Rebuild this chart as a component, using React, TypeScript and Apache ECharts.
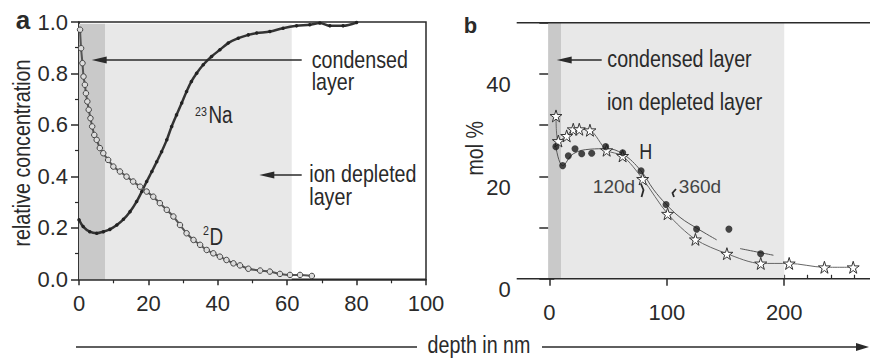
import React, { useEffect, useRef } from "react";
import * as echarts from "echarts";

// ---------- data ----------
const naData: number[][] = [
  [0, 0.231], [1.2, 0.205], [3.1, 0.185], [5.1, 0.179], [7.0, 0.185], [8.9, 0.194],
  [10.9, 0.211], [12.8, 0.233], [14.7, 0.263], [16.6, 0.302], [18.1, 0.341], [19.5, 0.38],
  [21.0, 0.419], [22.4, 0.457], [23.8, 0.496], [25.3, 0.542], [26.7, 0.594], [28.1, 0.639],
  [29.6, 0.685], [31.0, 0.73], [32.4, 0.769], [33.9, 0.801], [35.8, 0.834], [38.2, 0.866],
  [40.6, 0.892], [43.0, 0.918], [45.9, 0.937], [48.8, 0.95], [51.2, 0.957], [55.0, 0.963],
  [58.8, 0.976], [62.7, 0.985], [66.5, 0.989], [69.4, 0.996], [72.3, 0.985], [76.1, 0.985],
  [80.0, 0.998],
];
const dData: number[][] = [
  [0.3, 0.97], [0.6, 0.898], [1.0, 0.84], [1.3, 0.788], [1.7, 0.756], [2.0, 0.723],
  [2.4, 0.691], [2.8, 0.659], [3.3, 0.626], [3.8, 0.594], [4.4, 0.561], [5.1, 0.542],
  [6.0, 0.51], [7.0, 0.49], [8.4, 0.464], [9.9, 0.438], [11.8, 0.419], [13.7, 0.399],
  [15.6, 0.38], [17.6, 0.36], [19.5, 0.341], [21.4, 0.321], [23.3, 0.296], [25.3, 0.27],
  [27.2, 0.244], [29.1, 0.211], [31.0, 0.179], [33.0, 0.153], [34.9, 0.134], [36.8, 0.114],
  [38.7, 0.101], [40.6, 0.088], [42.5, 0.075], [44.5, 0.062], [46.4, 0.054], [48.8, 0.041],
  [52.2, 0.034], [55.0, 0.03], [57.9, 0.021], [60.8, 0.017], [63.7, 0.017], [67.1, 0.013],
];
const starData: number[][] = [
  [5.7, 31.8], [7.7, 26.9], [14.8, 27.9], [20.4, 29.2], [25.5, 29.2], [34.6, 29.0],
  [48.8, 25.1], [62.4, 24.0], [79.5, 19.5], [100.7, 12.7], [124.4, 7.7], [151.2, 4.9],
  [180.0, 3.0], [204.2, 3.0], [234.2, 2.25], [258.7, 2.25],
];
const dotData: number[][] = [
  [5.6, 25.8], [11.4, 22.1], [16.2, 24.0], [21.9, 25.4], [27.6, 24.4], [36.1, 24.5],
  [48.0, 25.8], [62.5, 24.6], [78.1, 21.1], [99.4, 14.5], [125.4, 9.7], [152.9, 9.7],
  [179.9, 4.9],
];
const dotFit: (number[] | string)[] = [
  [5.6, 25.8], [11.4, 22.1], [20.4, 24.4], [34.6, 25.3], [48.8, 25.4], [62.4, 24.4],
  [78.0, 21.1], [88.5, 17.5], [99.3, 14.6], [111.3, 12.0], [125.4, 9.9], [142.5, 7.6],
  "-", [162.4, 5.9], [190.8, 4.6],
];
const aXTicks = [0, 20, 40, 60, 80, 100];
const bXLabels = [0, 100, 200];
const bXMinor = [20, 40, 60, 80, 100, 120, 140, 160, 180, 200, 220, 240, 260];
const bYLabels = [0, 20, 40];
const aCondensed = [0, 7.5];
const aDepleted = [7.5, 61.3];
const bCondensed = [-1, 10];
const bDepleted = [10, 200];

const FONT = "'Liberation Sans', Arial, Helvetica, sans-serif";
const NARROW = 0.82;
const INK = "#2a2a2a";
const STAR = "path://M50,0 L61,35 L98,35 L68,57 L79,91 L50,70 L21,91 L32,57 L2,35 L39,35 Z";

function txt(text: string, x: number, y: number, size: number, extra: any = {}, el: any = {}) {
  return {
    type: "text",
    x,
    y,
    z: 100,
    silent: true,
    scaleX: NARROW,
    ...el,
    style: {
      text,
      fontSize: size,
      fontFamily: FONT,
      fill: INK,
      align: "left",
      verticalAlign: "middle",
      ...extra,
    },
  };
}
function ln(x1: number, y1: number, x2: number, y2: number, w = 1.5) {
  return {
    type: "line",
    z: 100,
    silent: true,
    shape: { x1, y1, x2, y2 },
    style: { stroke: INK, lineWidth: w },
  };
}
function head(tipX: number, y: number, len: number, half: number, dir: number) {
  return {
    type: "polygon",
    z: 100,
    silent: true,
    shape: {
      points: [
        [tipX, y],
        [tipX + dir * len, y - half],
        [tipX + dir * len, y + half],
      ],
    },
    style: { fill: INK },
  };
}

export default function App() {
  const ref = useRef<HTMLDivElement>(null);
  useEffect(() => {
    if (!ref.current) return;
    const chart = echarts.init(ref.current, undefined, { renderer: "svg" });
    const axisLine = { lineStyle: { color: INK, width: 1.5 } };
    const tickStyle = { color: INK, width: 1.5 };
    const lbl = { fontSize: 22, fontFamily: FONT, color: INK };
    chart.setOption({
      animation: false,
      grid: [
        { left: 79, right: 444, top: 22, bottom: 78.7, show: true, borderColor: INK, borderWidth: 1.5 },
        { left: 525.8, right: 0, top: 22.7, bottom: 79.2 },
      ],
      xAxis: [
        {
          gridIndex: 0, type: "value", min: aXTicks[0], max: aXTicks[aXTicks.length - 1], interval: 20,
          axisLine, axisTick: { length: 6, lineStyle: tickStyle },
          minorTick: { show: true, splitNumber: 2, length: 4, lineStyle: { color: INK, width: 1.2 } },
          axisLabel: { ...lbl, margin: 13 }, splitLine: { show: false },
        },
        {
          gridIndex: 1, type: "value", min: -20, max: 273, position: "bottom",
          axisLine: { show: false },
          axisTick: { customValues: bXLabels, length: 7, lineStyle: tickStyle },
          axisLabel: { ...lbl, customValues: bXLabels, margin: 23 }, splitLine: { show: false },
        },
        {
          gridIndex: 1, type: "value", min: -20, max: 273, position: "bottom",
          axisLine: { show: false },
          axisTick: { inside: true, customValues: bXMinor, length: 4, lineStyle: { color: INK, width: 1.2 } },
          axisLabel: { show: false }, splitLine: { show: false },
        },
      ],
      yAxis: [
        {
          gridIndex: 0, type: "value", min: 0, max: 1, interval: 0.2,
          axisLine: { show: true, ...axisLine }, axisTick: { show: true, length: 8, lineStyle: tickStyle },
          minorTick: { show: true, splitNumber: 2, length: 4, lineStyle: { color: INK, width: 1.2 } },
          axisLabel: { ...lbl, margin: 11, formatter: (v: number) => v.toFixed(1) },
          splitLine: { show: false },
        },
        {
          gridIndex: 1, type: "value", min: 0, max: 50, interval: 10, position: "left",
          axisLine: { show: true, ...axisLine }, axisTick: { show: true, length: 10, lineStyle: tickStyle },
          axisLabel: { ...lbl, customValues: bYLabels, margin: 15, verticalAlign: "top" },
          splitLine: { show: false },
        },
        {
          gridIndex: 1, type: "value", min: 0, max: 50, interval: 10, position: "left",
          axisLine: { show: false }, axisTick: { show: true, inside: true, length: 5, lineStyle: tickStyle },
          axisLabel: { show: false }, splitLine: { show: false },
        },
      ],
      series: [
        {
          name: "23Na", type: "line", xAxisIndex: 0, yAxisIndex: 0, data: naData, smooth: 0.3,
          symbol: "circle", symbolSize: 3.5, itemStyle: { color: "#222" },
          lineStyle: { color: "#333", width: 2.5 }, z: 3,
          markArea: {
            silent: true, label: { show: false },
            data: [
              [{ xAxis: aCondensed[0], yAxis: 0, itemStyle: { color: "#c9c9c9" } }, { xAxis: aCondensed[1], yAxis: 0.993 }],
              [{ xAxis: aDepleted[0], yAxis: 0, itemStyle: { color: "#e8e8e8" } }, { xAxis: aDepleted[1], yAxis: 0.993 }],
            ],
          },
        },
        {
          name: "2D", type: "line", xAxisIndex: 0, yAxisIndex: 0, data: dData, smooth: 0.3,
          symbol: "circle", symbolSize: 5.5,
          itemStyle: { color: "#dcdcdc", borderColor: "#444", borderWidth: 1 },
          lineStyle: { color: "#555", width: 2 }, z: 4,
        },
        {
          name: "fit", type: "line", xAxisIndex: 1, yAxisIndex: 1, data: dotFit, smooth: 0.4,
          symbol: "none", lineStyle: { color: "#555", width: 1 }, connectNulls: false, z: 3,
          markArea: {
            silent: true, label: { show: false },
            data: [
              [{ xAxis: bCondensed[0], yAxis: 0, itemStyle: { color: "#c9c9c9" } }, { xAxis: bCondensed[1], yAxis: 50 }],
              [{ xAxis: bDepleted[0], yAxis: 0, itemStyle: { color: "#e8e8e8" } }, { xAxis: bDepleted[1], yAxis: 50 }],
            ],
          },
        },
        {
          name: "360d", type: "line", xAxisIndex: 1, yAxisIndex: 1, data: starData, smooth: 0.3,
          symbol: STAR, symbolSize: 12,
          itemStyle: { color: "#ffffff", borderColor: "#333", borderWidth: 1 },
          lineStyle: { color: "#666", width: 1 }, z: 5,
        },
        {
          name: "dots", type: "scatter", xAxisIndex: 1, yAxisIndex: 1, data: dotData,
          symbol: "circle", symbolSize: 7, itemStyle: { color: "#1a1a1a" }, z: 6,
        },
      ],
      graphic: [
        // panel letters and axis names
        txt("a", 23, 20, 26, { fontWeight: "bold", align: "center" }, { scaleX: 1 }),
        txt("b", 470.5, 25.6, 22, { fontWeight: "bold", align: "center" }, { scaleX: 1 }),
        txt("relative concentration", 21.6, 153, 24, { align: "center" }, { rotation: Math.PI / 2 }),
        txt("mol %", 474.3, 148.3, 24, { align: "center" }, { rotation: Math.PI / 2 }),
        // panel a annotations
        txt("condensed\nlayer", 311.7, 49.3, 24, { verticalAlign: "top", lineHeight: 21.5 }),
        txt("ion depleted\nlayer", 309.3, 162.5, 24, { verticalAlign: "top", lineHeight: 23 }),
        ln(106, 60, 301.7, 60), head(91.7, 60, 15, 3.5, 1),
        ln(274, 175, 301.7, 175), head(259.3, 175, 15, 3.5, 1),
        txt("23", 195, 111.5, 13),
        txt("Na", 208.5, 114.5, 23),
        txt("2", 203, 231, 13),
        txt("D", 209.5, 236.5, 23),
        // panel b annotations
        txt("condensed layer", 607.3, 58.3, 24),
        txt("ion depleted layer", 607, 101.6, 24),
        ln(571, 60, 601.7, 60), head(556.7, 60, 15, 3.5, 1),
        txt("H", 639.3, 151, 22),
        txt("120d", 614, 186, 19, { fill: "#444", align: "center" }, { scaleX: 1 }),
        txt("360d", 700, 186, 19, { fill: "#444", align: "center" }, { scaleX: 1 }),
        { type: "polyline", z: 100, silent: true, shape: { points: [[641, 184], [643.5, 190], [641.5, 197]] }, style: { stroke: INK, lineWidth: 1.8, fill: "none" } },
        { type: "polyline", z: 100, silent: true, shape: { points: [[676, 189], [672.5, 193], [674, 197]] }, style: { stroke: INK, lineWidth: 1.8, fill: "none" } },
        // panel b frame lines
        ln(516.7, 22.7, 870, 22.7),
        ln(516.7, 278.8, 870, 278.8),
        // depth arrow
        txt("depth in nm", 479, 344.5, 24, { align: "center" }),
        ln(76, 347, 417, 347),
        ln(542, 347, 858, 347),
        head(869, 347, 13, 4, -1),
      ],
    });
    return () => chart.dispose();
  }, []);
  return <div ref={ref} style={{ width: 870, height: 358, position: "absolute", left: 0, top: 0 }} />;
}
